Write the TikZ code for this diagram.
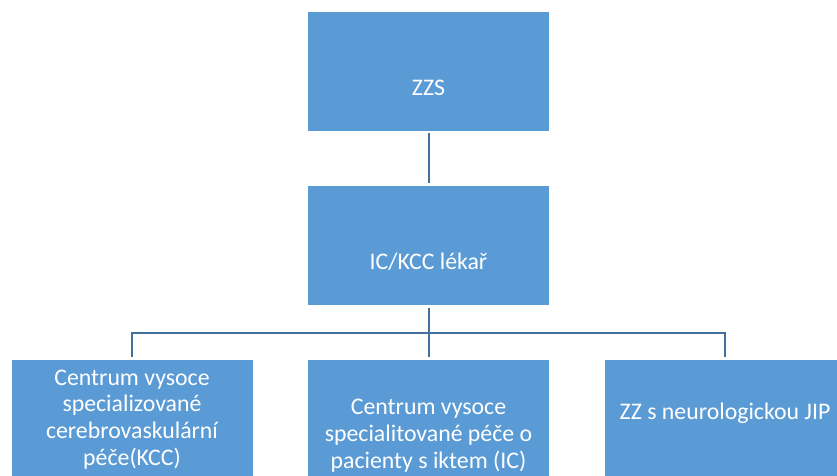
\documentclass[tikz,border=0pt]{standalone}
\usepackage{fontspec}
\setmainfont{Carlito}
\usetikzlibrary{positioning}
\definecolor{boxblue}{HTML}{5B9BD5}
\definecolor{linkblue}{HTML}{41719C}

\begin{document}
\begin{tikzpicture}[x=1pt,y=-1pt,node distance=54pt]
	\tikzset{box/.style={rectangle,fill=boxblue,draw=white,line width=0.8pt,minimum width=242pt,minimum height=120pt,inner sep=0pt,text=white,align=center,font=\fontsize{23.8pt}{26.6pt}\selectfont,text height=0pt,text depth=0pt}}
	\tikzset{lowtext/.style={text height=#1}}
	\tikzset{link/.style={draw=linkblue,line width=2pt,shorten <=2pt,shorten >=2pt}}
	\useasboundingbox (0,0) rectangle (837,475);
	\clip (0,0) rectangle (837,475);
	\node[box,lowtext=49.4pt] (zzs) at (428.5,71) {ZZS};
	\node[box,lowtext=48pt,below=of zzs] (lekar) {IC/KCC lékař};
	\node[box,lowtext=92pt] (kcc) at (132,419) {Centrum vysoce\\specializované\\cerebrovaskulární\\péče(KCC)};
	\node[box,lowtext=98pt] (ic) at (428.5,419) {Centrum vysoce\\specialitované péče o\\pacienty s iktem (IC)};
	\node[box] (jip) at (725,419) {ZZ s neurologickou JIP};
	\draw[link] (zzs) -- (lekar);
	\draw[link] (lekar.south) -- ++(0,26.7) -| (kcc.north);
	\draw[link] (lekar.south) -- ++(0,26.7) -| (ic.north);
	\draw[link] (lekar.south) -- ++(0,26.7) -| (jip.north);
\end{tikzpicture}
\end{document}
